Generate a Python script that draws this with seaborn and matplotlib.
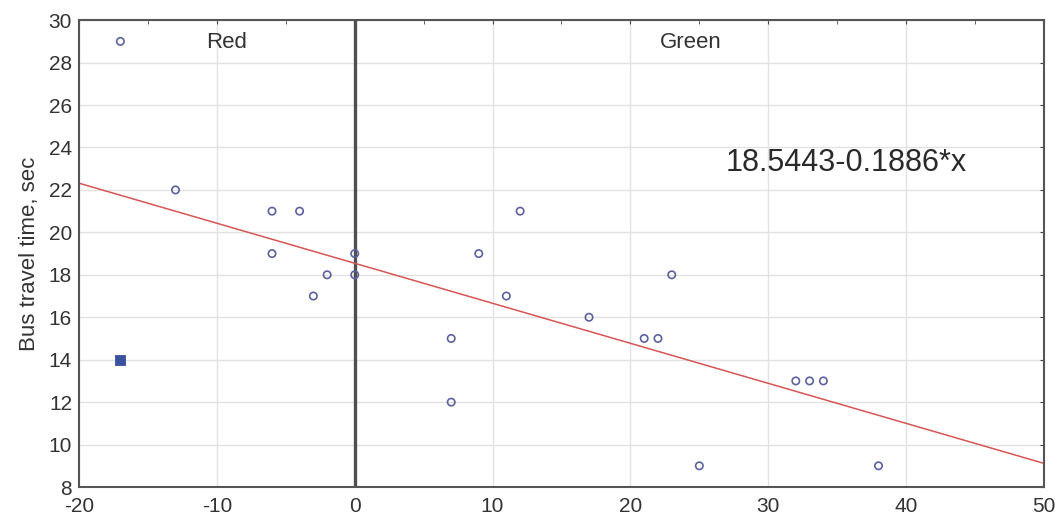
import numpy as np
import pandas as pd
import matplotlib
matplotlib.use("Agg")
import matplotlib.pyplot as plt
import seaborn as sns

# data
x_open = [-17, -13, -6, -4, -6, -2, -3, 0, 0, 7, 7, 9, 11, 12, 17, 21, 22, 23, 25, 32, 33, 34, 38]
y_open = [29, 22, 21, 21, 19, 18, 17, 19, 18, 15, 12, 19, 17, 21, 16, 15, 15, 18, 9, 13, 13, 13, 9]
x_filled = [-17]
y_filled = [14]
intercept = 18.5443
slope = -0.1886
fit_x = [-20, 50]
zone_labels = ["Red", "Green"]
zone_x = [-9.3, 24.4]

sns.set_style("whitegrid")
plt.rcParams['font.family'] = ['Liberation Sans', 'DejaVu Sans']

df_open = pd.DataFrame({"x": x_open, "y": y_open})
df_fill = pd.DataFrame({"x": x_filled, "y": y_filled})
df_fit = pd.DataFrame({"x": fit_x, "y": [intercept + slope * v for v in fit_x]})

fig = plt.figure(figsize=(10.58, 5.17), dpi=100)
ax = fig.add_axes([0.0747, 0.058, 0.912, 0.903])

ax.axvline(0, color="#505050", lw=2.4, zorder=1)
sns.lineplot(data=df_fit, x="x", y="y", ax=ax, color="#d65555", lw=1.1, zorder=2)
sns.scatterplot(data=df_open, x="x", y="y", ax=ax, marker="o", s=28,
                facecolor="none", edgecolor="#5c619e", linewidth=1.2, zorder=3)
sns.scatterplot(data=df_fill, x="x", y="y", ax=ax, marker="s", s=60,
                color="#3a52a0", edgecolor="#3a52a0", zorder=3)

for lab, xv in zip(zone_labels, zone_x):
    ax.text(xv, 28.95, lab, fontsize=16, color="#333333", ha="center", va="center")
ax.text(35.65, 23.25, f"{intercept}{slope}*x", fontsize=22, color="#2a2a2a",
        ha="center", va="center")

ax.set_xlim(-20, 50)
ax.set_ylim(8, 30)
ax.set_xticks(np.arange(-20, 51, 10))
ax.set_xticklabels([str(v) for v in range(-20, 51, 10)])
ax.set_yticks(np.arange(8, 31, 2))
ax.set_xticks(np.arange(-15, 50, 10), minor=True)
ax.tick_params(axis="both", which="both", direction="in", top=True, right=True,
               length=3, color="#444444", labelsize=15, labelcolor="#333333")
ax.tick_params(axis="x", pad=7)
ax.tick_params(axis="y", pad=5)
ax.grid(True, which="major", color="#e2e2e2", lw=1)
ax.set_xlabel("")
ax.set_ylabel("Bus travel time, sec", fontsize=16, color="#333333", labelpad=6)
for s in ax.spines.values():
    s.set_color("#555555")
    s.set_linewidth(1.5)

fig.savefig("out.png", dpi=100)
